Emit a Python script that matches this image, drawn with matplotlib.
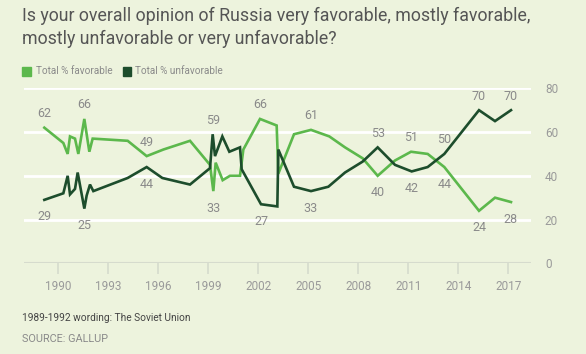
import matplotlib
matplotlib.use("Agg")
import matplotlib.pyplot as plt
from matplotlib.patches import Rectangle

# ---- data ----
fav_years = [1989.16, 1990.30, 1990.56, 1990.70, 1991.00, 1991.20, 1991.56, 1991.86, 1992.06,
             1994.16, 1995.30, 1996.30, 1997.90, 1999.10, 1999.30, 1999.44, 1999.86, 2000.30,
             2000.90, 2001.10, 2002.10, 2003.10, 2003.20, 2004.14, 2005.16, 2006.26, 2007.20,
             2008.26, 2009.16, 2010.20, 2011.16, 2012.16, 2013.16, 2014.20, 2015.24, 2016.20,
             2017.16]
fav_values = [62, 55, 50, 58, 57, 50, 66, 51, 57,
              56, 49, 52, 56, 45, 33, 46, 38, 40,
              40, 52, 66, 63, 41, 59, 61, 58, 53,
              48, 40, 47, 51, 50, 44, 34, 24, 30,
              28]

unfav_years = [1989.16, 1990.30, 1990.56, 1990.70, 1991.00, 1991.16, 1991.56, 1991.70, 1991.90,
               1992.10, 1994.16, 1995.30, 1996.24, 1997.90, 1999.10, 1999.26, 1999.40, 1999.84,
               2000.26, 2000.90, 2001.00, 2002.16, 2003.14, 2003.20, 2004.14, 2005.16, 2006.20,
               2007.20, 2008.26, 2009.16, 2010.20, 2011.20, 2012.16, 2013.16, 2014.20, 2015.24,
               2016.20, 2017.16]
unfav_values = [29, 32, 40, 31.5, 34, 41.5, 25, 31, 36,
                33, 39, 44, 39, 36, 43.5, 59, 49, 58,
                51, 53, 43, 27, 26, 52, 35, 33, 35,
                41.5, 46.5, 53, 45, 42, 44, 50, 60, 70,
                65, 70]

# labelled points: (index into series, above?)
fav_labels = [(0, True), (6, True), (10, True), (14, False), (20, True), (24, True),
              (28, False), (30, True), (32, False), (34, False), (36, False)]
unfav_labels = [(0, False), (6, False), (11, False), (15, True), (21, False), (25, False),
                (29, True), (31, False), (33, True), (35, True), (37, True)]

xticks = [1990, 1993, 1996, 1999, 2002, 2005, 2008, 2011, 2014, 2017]
yticks = [0, 20, 40, 60, 80]

title = "Is your overall opinion of Russia very favorable, mostly favorable,\nmostly unfavorable or very unfavorable?"
series_names = ["Total % favorable", "Total % unfavorable"]
note = "1989-1992 wording: The Soviet Union"
source = "SOURCE: GALLUP"

# ---- style ----
BG = "#edf3dd"
FAV = "#5cb84c"
UNFAV = "#1d4d2c"
LABEL = "#8a8a8a"
FONT = "Roboto"

fig = plt.figure(figsize=(5.86, 3.54), dpi=100, facecolor=BG)
ax = fig.add_axes([24 / 586, (354 - 263.3) / 354, 507 / 586, 175 / 354])
ax.set_facecolor(BG)

ax.set_xlim(1987.94, 2018.36)
ax.set_ylim(0, 80)

for y in yticks[1:]:
    ax.axhline(y, color="white", lw=2.0, zorder=1)
ax.axhline(0, color="#d6dbcd", lw=1.5, zorder=1)

ax.plot(fav_years, fav_values, color=FAV, lw=1.9, zorder=3, solid_joinstyle="miter")
ax.plot(unfav_years, unfav_values, color=UNFAV, lw=1.9, zorder=3, solid_joinstyle="miter")

for idx, above in fav_labels:
    ax.annotate(str(fav_values[idx]), (fav_years[idx], fav_values[idx]),
                xytext=(0, 14 if above else -17), textcoords="offset pixels",
                ha="center", va="center", color=LABEL, fontsize=9, family=FONT, zorder=4)
for idx, above in unfav_labels:
    v = unfav_values[idx]
    ax.annotate(str(int(v)), (unfav_years[idx], v),
                xytext=(0, 14 if above else -17), textcoords="offset pixels",
                ha="center", va="center", color=LABEL, fontsize=9, family=FONT, zorder=4)

for s in ax.spines.values():
    s.set_visible(False)

ax.set_xticks(xticks)
ax.set_xticklabels([str(t) for t in xticks], family=FONT, fontsize=8.5, color="#9a9a9a")
ax.tick_params(axis="x", direction="out", length=8, width=1.2, color="#d6dbcd", pad=4)
ax.set_yticks(yticks)
ax.yaxis.tick_right()
ax.set_yticklabels([str(t) for t in yticks], family=FONT, fontsize=8.5, color="#9a9a9a")
ax.tick_params(axis="y", length=0, pad=10)

fig.text(22 / 586, 1 - 7 / 354, title, ha="left", va="top", fontsize=12.8, family=FONT,
         color="#555555", linespacing=1.32)

# legend
fig.patches.append(Rectangle((22 / 586, 1 - 75.5 / 354), 8.5 / 586, 8.5 / 354,
                             transform=fig.transFigure, color=FAV))
fig.text(36 / 586, 1 - 71 / 354, series_names[0], ha="left", va="center", fontsize=7.2,
         family=FONT, color="#8a8a8a")
fig.patches.append(Rectangle((122.5 / 586, 1 - 75.5 / 354), 8.5 / 586, 8.5 / 354,
                             transform=fig.transFigure, color=UNFAV))
fig.text(135 / 586, 1 - 71 / 354, series_names[1], ha="left", va="center", fontsize=7.2,
         family=FONT, color="#8a8a8a")

fig.text(22 / 586, 1 - 318 / 354, note, ha="left", va="center", fontsize=7.3,
         family=FONT, color="#444444")
fig.text(22 / 586, 1 - 339 / 354, source, ha="left", va="center",
         fontsize=7.8, family=FONT, color="#8a8a8a")

fig.savefig("out.png", dpi=100, facecolor=BG)
